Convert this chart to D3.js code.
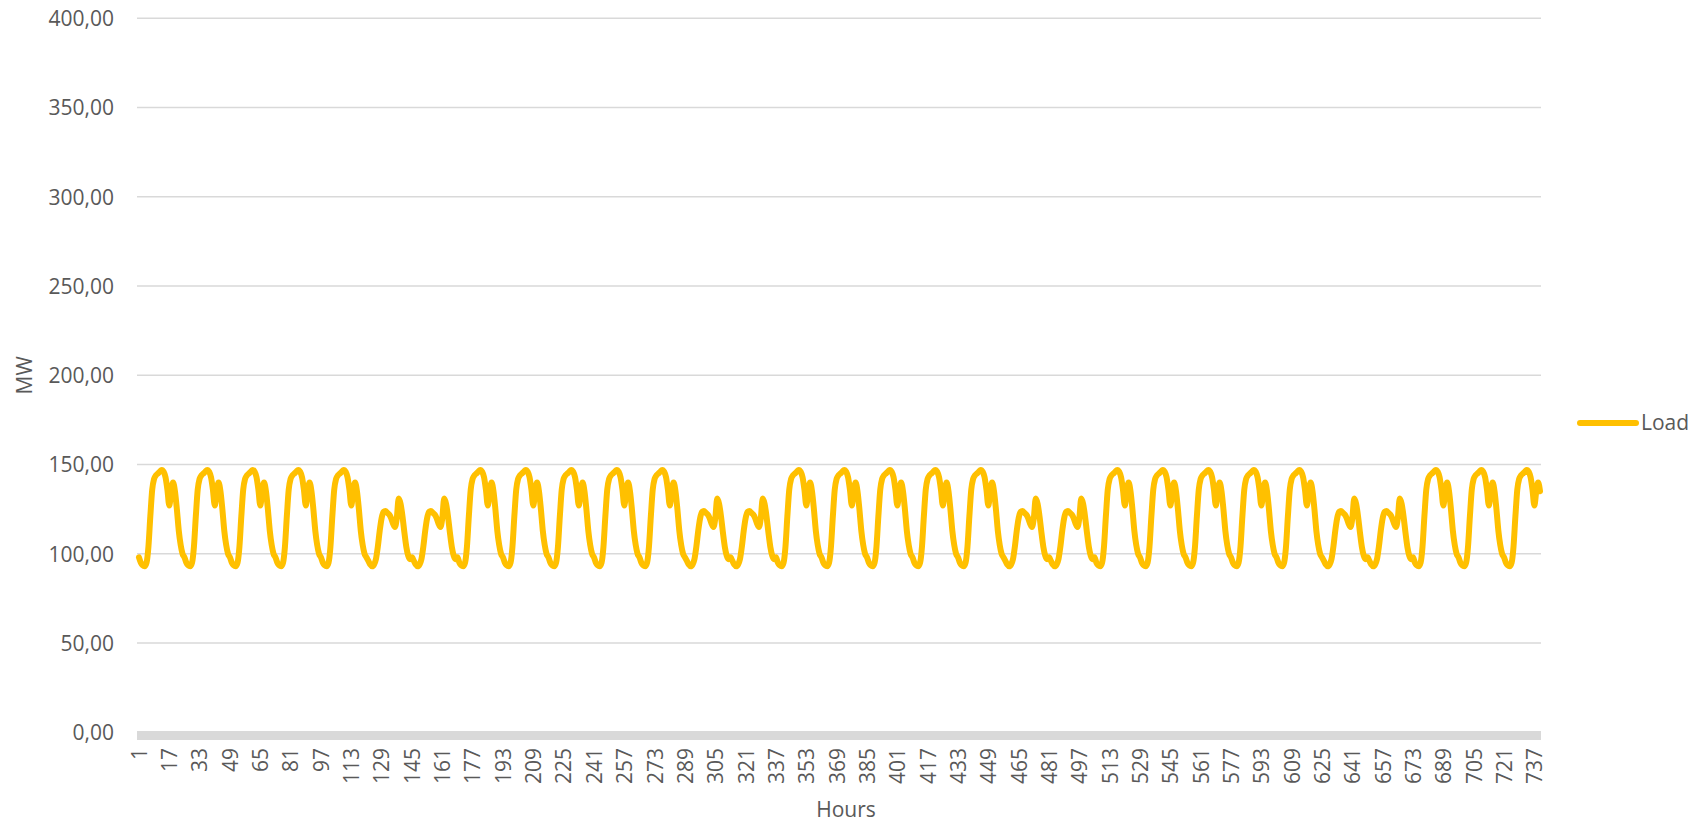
<!DOCTYPE html>
<html>
<head>
<meta charset="utf-8">
<script src="https://cdn.jsdelivr.net/npm/d3@7"></script>
<style>
  html, body { margin: 0; padding: 0; background: #ffffff; }
  svg { display: block; }
  text { font-family: "Open Sans", "Noto Sans", sans-serif; fill: #595959; }
</style>
</head>
<body>
<svg id="chart" width="1702" height="822"></svg>
<script>
// ---- Data ----
// Hourly load profile (MW) of a working day, hours 1..24
const weekdayProfile = [98, 95, 93.5, 93, 95, 104, 121, 136, 142, 144, 145, 146,
                        147, 146, 143, 136, 127, 135, 140, 135, 125, 113, 105, 100];
// Hourly load profile (MW) of a weekend day, hours 1..24
const weekendProfile = [98, 96, 94, 93, 94, 97, 104, 113, 120, 123.5, 124, 123,
                        122, 120, 117, 115, 120, 131, 128, 121, 112, 104, 99, 97];
// Type of each day in the month: W = working day, E = weekend
const dayTypes = ["W","W","W","W","W","E","E",
                  "W","W","W","W","W","E","E",
                  "W","W","W","W","W","E","E",
                  "W","W","W","W","W","E","E",
                  "W","W","W"];
const hourCount = 740;              // number of hourly points in the series
const yTicks = [0, 50, 100, 150, 200, 250, 300, 350, 400];
const xTickEvery = 16;              // category label interval (1, 17, 33, ...)
const seriesName = "Load";

// Build the series from the day types and profiles
const load = [];
dayTypes.forEach(t => {
  const prof = t === "W" ? weekdayProfile : weekendProfile;
  prof.forEach(v => { if (load.length < hourCount) load.push(v); });
});
const hours = load.map((_, i) => i + 1);
const data = hours.map((h, i) => ({ h, v: load[i] }));

// ---- Layout ----
const svg = d3.select("#chart");
const mLeft = 138, mRight = 1541, mTop = 18.3, mBottom = 732.3;

const x = d3.scalePoint().domain(hours).range([mLeft, mRight]).padding(0.5);
const y = d3.scaleLinear().domain([0, 400]).range([mBottom, mTop]);

const fmt = v => d3.format(".2f")(v).replace(".", ",");
const fontSize = 21;

// Gridlines
svg.append("g").selectAll("line")
  .data(yTicks.filter(t => t > 0))
  .join("line")
  .attr("x1", mLeft - 1).attr("x2", mRight)
  .attr("y1", d => y(d)).attr("y2", d => y(d))
  .attr("stroke", "#d9d9d9").attr("stroke-width", 1.6);

// Y axis labels
const yAxis = d3.axisLeft(y).tickValues(yTicks).tickFormat(fmt).tickSize(0).tickPadding(0);
const gy = svg.append("g").attr("transform", `translate(114,0)`).call(yAxis);
gy.select(".domain").remove();
gy.selectAll("text")
  .style("font-size", fontSize + "px")
  .style("font-family", '"Open Sans", sans-serif')
  .attr("fill", "#595959")
  .attr("dy", "0.35em");

// X axis baseline (thick grey)
svg.append("rect")
  .attr("x", mLeft - 1).attr("y", 731)
  .attr("width", mRight - mLeft + 1).attr("height", 9)
  .attr("fill", "#d9d9d9");

// X axis labels (rotated)
const xAxis = d3.axisBottom(x)
  .tickValues(hours.filter(h => (h - 1) % xTickEvery === 0))
  .tickSize(0).tickPadding(0);
const gx = svg.append("g").attr("transform", `translate(0,748)`).call(xAxis);
gx.select(".domain").remove();
gx.selectAll("text")
  .style("font-size", fontSize + "px")
  .style("font-family", '"Open Sans", sans-serif')
  .attr("fill", "#595959")
  .attr("transform", "rotate(-90)")
  .attr("text-anchor", "end")
  .attr("x", 0).attr("y", 0)
  .attr("dy", "0.35em");

// Line
const line = d3.line().x(d => x(d.h)).y(d => y(d.v)).curve(d3.curveMonotoneX);
svg.append("path")
  .datum(data)
  .attr("d", line)
  .attr("fill", "none")
  .attr("stroke", "#FFC000")
  .attr("stroke-width", 6)
  .attr("stroke-linejoin", "round")
  .attr("stroke-linecap", "round");

// Axis titles
svg.append("text")
  .attr("x", 846).attr("y", 810)
  .attr("text-anchor", "middle").attr("dy", "0.35em")
  .style("font-size", fontSize + "px")
  .text("Hours");
svg.append("text")
  .attr("transform", `translate(25,${(mTop + mBottom) / 2}) rotate(-90)`)
  .attr("text-anchor", "middle").attr("dy", "0.35em")
  .style("font-size", fontSize + "px")
  .text("MW");

// Legend
const lg = svg.append("g").attr("transform", "translate(1580,423)");
lg.append("line").attr("x1", 0).attr("x2", 56).attr("y1", 0).attr("y2", 0)
  .attr("stroke", "#FFC000").attr("stroke-width", 6).attr("stroke-linecap", "round");
lg.append("text").attr("x", 61).attr("y", 0).attr("dy", "0.35em")
  .style("font-size", fontSize + "px")
  .text(seriesName);
</script>
</body>
</html>
